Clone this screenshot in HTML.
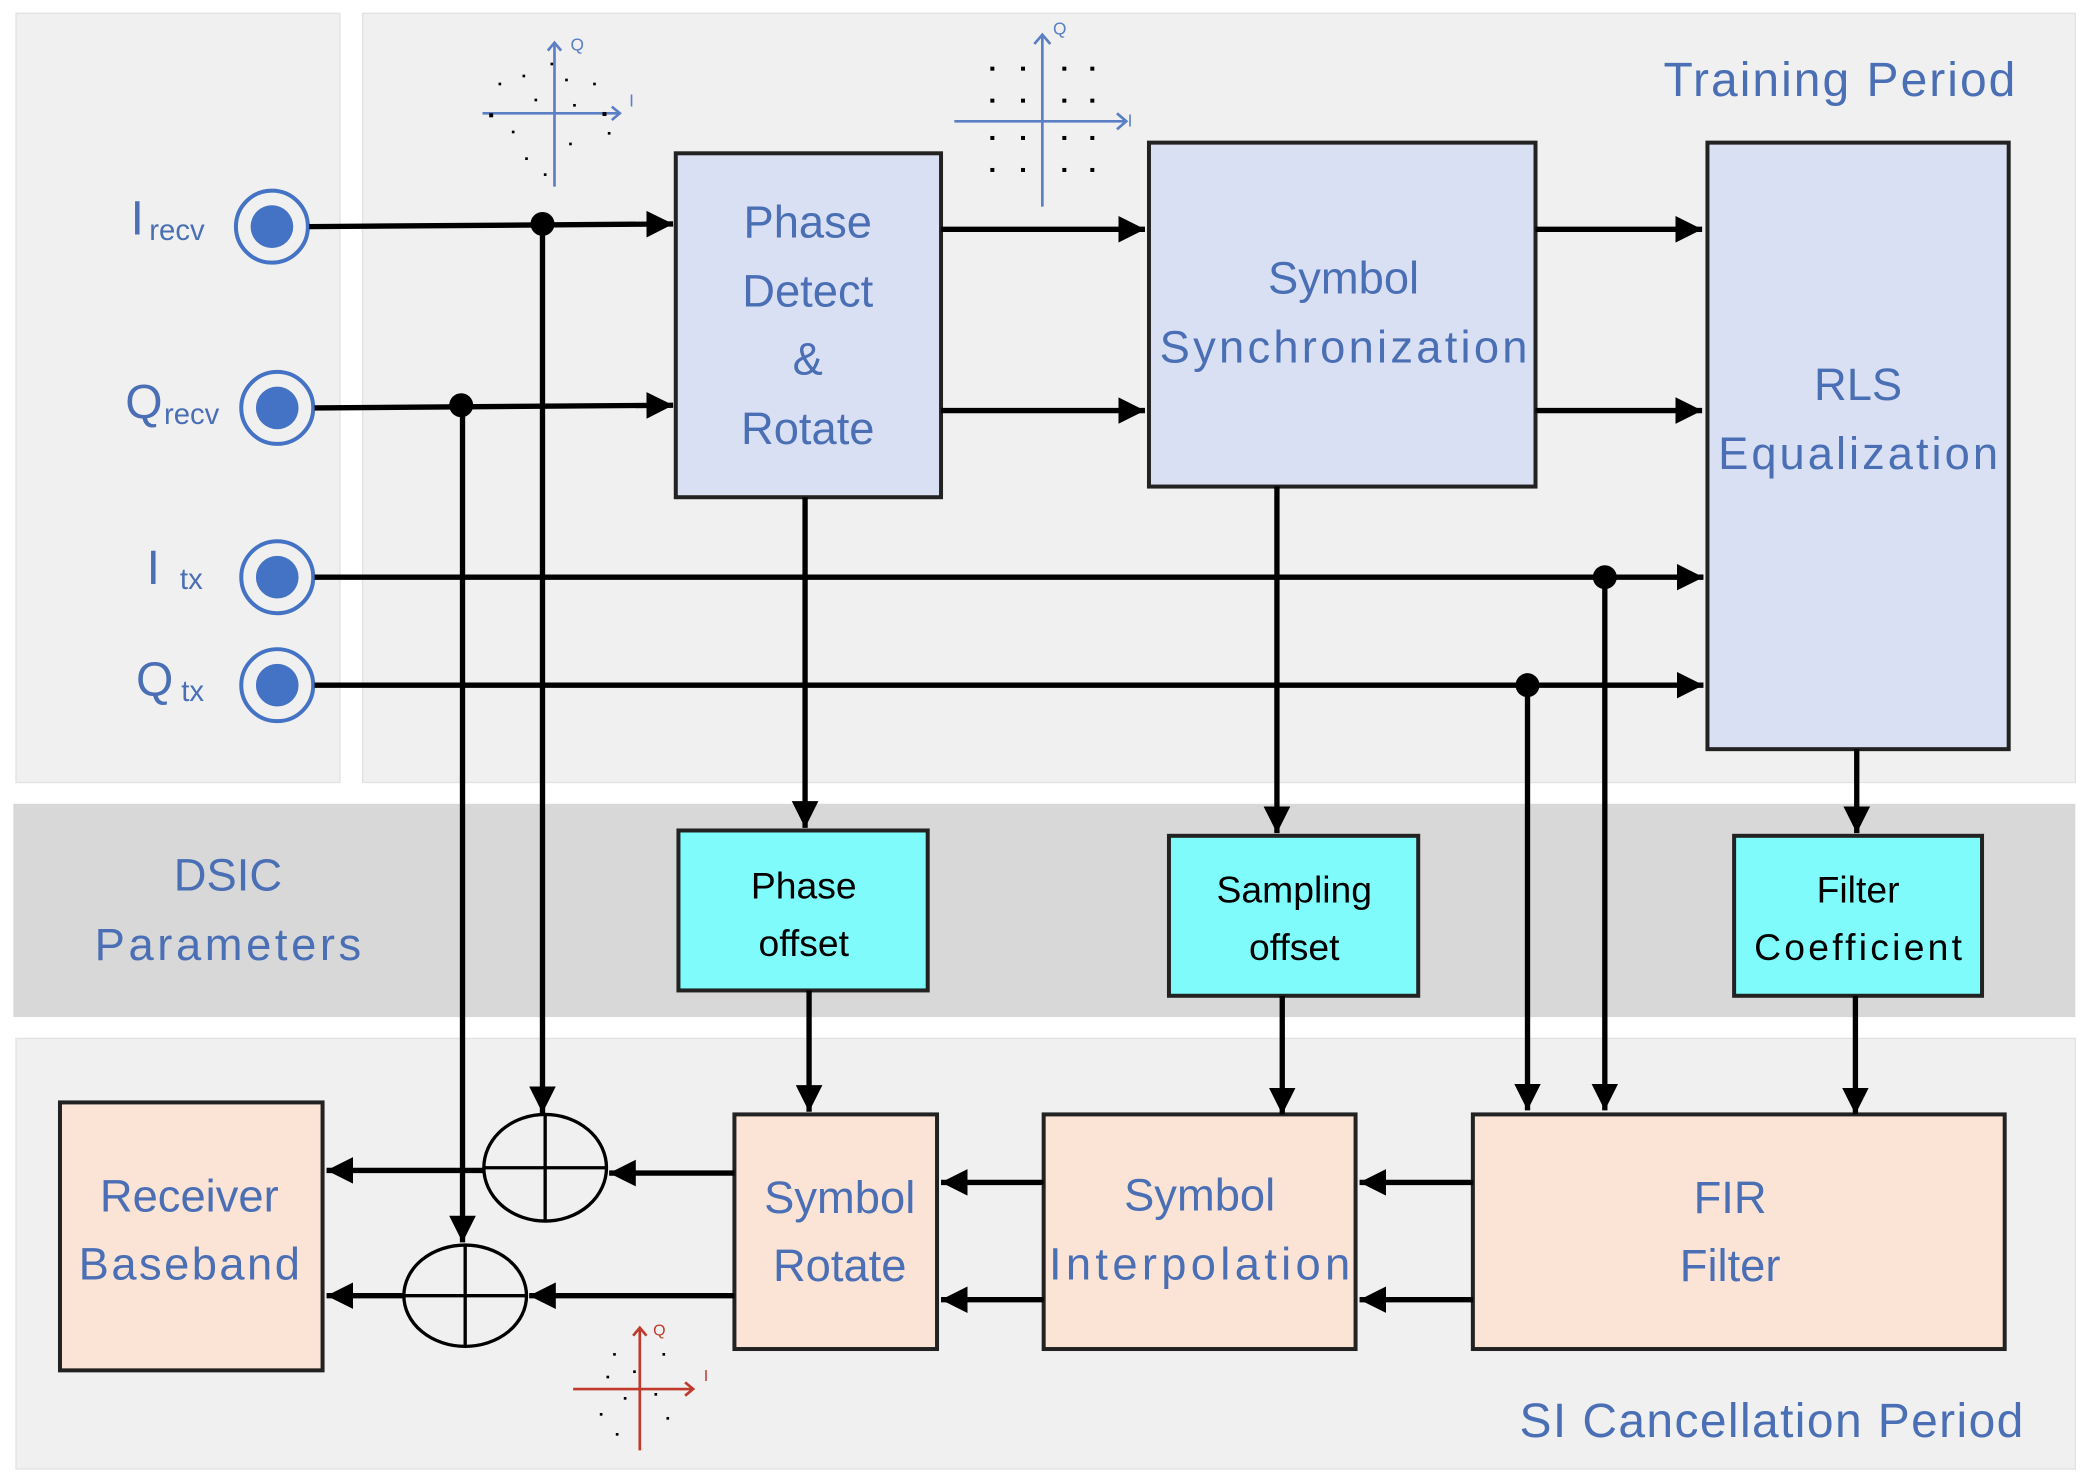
<!DOCTYPE html>
<html><head><meta charset="utf-8"><style>
html,body{margin:0;padding:0;background:#fff;}
svg{display:block;}
text{font-family:"Liberation Sans",sans-serif;}
</style></head><body>
<svg width="2090" height="1481" viewBox="0 0 1568 1111" preserveAspectRatio="none" xmlns="http://www.w3.org/2000/svg">
<defs>
<marker id="a" viewBox="0 0 10 10" refX="10" refY="5" markerWidth="5" markerHeight="5" markerUnits="strokeWidth" orient="auto"><path d="M0,0 L10,5 L0,10 z" fill="#000"/></marker>
</defs>
<rect width="1568" height="1111" fill="#fff"/>
<rect x="12" y="10" width="243" height="577" fill="#f0f0f0" stroke="#e2e2e2"/>
<rect x="272" y="10" width="1285" height="577" fill="#f0f0f0" stroke="#e2e2e2"/>
<rect x="10" y="603" width="1547" height="160" fill="#d8d8d8"/>
<rect x="12" y="779" width="1545" height="323" fill="#f0f0f0" stroke="#e2e2e2"/>

<g fill="#4a6fb5" font-size="34">
<text x="1248" y="72" font-size="36" textLength="264">Training Period</text>
<text x="1140" y="1078" font-size="36" textLength="378">SI Cancellation Period</text>
<text x="171" y="668" text-anchor="middle">DSIC</text>
<text x="171" y="720" text-anchor="middle" textLength="200">Parameters</text>
<text x="98" y="176" font-size="36">I</text><text x="112" y="180" font-size="22">recv</text>
<text x="94" y="314" font-size="36">Q</text><text x="123" y="318" font-size="22">recv</text>
<text x="110" y="438" font-size="36">I</text><text x="135" y="442" font-size="22">tx</text>
<text x="102" y="522" font-size="36">Q</text><text x="136" y="526" font-size="22">tx</text>
</g>
<g fill="none" stroke="#4472c4" stroke-width="3">
<circle cx="204" cy="170" r="27"/><circle cx="208" cy="306" r="27"/><circle cx="208" cy="433" r="27"/><circle cx="208" cy="514" r="27"/>
</g>
<g fill="#4472c4">
<circle cx="204" cy="170" r="16"/><circle cx="208" cy="306" r="16"/><circle cx="208" cy="433" r="16"/><circle cx="208" cy="514" r="16"/>
</g>

<!-- blocks -->
<g stroke="#222" stroke-width="3">
<rect x="507" y="115" width="199" height="258" fill="#dae0f3"/>
<rect x="862" y="107" width="290" height="258" fill="#dae0f3"/>
<rect x="1281" y="107" width="226" height="455" fill="#dae0f3"/>
<rect x="509" y="623" width="187" height="120" fill="#7ffbfc"/>
<rect x="877" y="627" width="187" height="120" fill="#7ffbfc"/>
<rect x="1301" y="627" width="186" height="120" fill="#7ffbfc"/>
<rect x="45" y="827" width="197" height="201" fill="#fbe4d5"/>
<rect x="551" y="836" width="152" height="176" fill="#fbe4d5"/>
<rect x="783" y="836" width="234" height="176" fill="#fbe4d5"/>
<rect x="1105" y="836" width="399" height="176" fill="#fbe4d5"/>
</g>
<g fill="#4a6fb5" font-size="34" text-anchor="middle">
<text x="606" y="178">Phase</text><text x="606" y="230">Detect</text><text x="606" y="281">&amp;</text><text x="606" y="333">Rotate</text>
<text x="1008" y="220">Symbol</text><text x="1008" y="272" textLength="276">Synchronization</text>
<text x="1394" y="300">RLS</text><text x="1394" y="352" textLength="210">Equalization</text>
<text x="142" y="909">Receiver</text><text x="142" y="960" textLength="166">Baseband</text>
<text x="630" y="910">Symbol</text><text x="630" y="961">Rotate</text>
<text x="900" y="908">Symbol</text><text x="900" y="960" textLength="226">Interpolation</text>
<text x="1298" y="910">FIR</text><text x="1298" y="961">Filter</text>
</g>
<g fill="#000" font-size="28" text-anchor="middle">
<text x="603" y="674">Phase</text><text x="603" y="717">offset</text>
<text x="971" y="677">Sampling</text><text x="971" y="720">offset</text>
<text x="1394" y="677">Filter</text><text x="1394" y="720" textLength="156">Coefficient</text>
</g>

<!-- adders -->
<g fill="none" stroke="#000" stroke-width="2.5">
<ellipse cx="409" cy="876" rx="46" ry="40"/><line x1="409" y1="836" x2="409" y2="916"/><line x1="363" y1="876" x2="455" y2="876"/>
<ellipse cx="349" cy="972" rx="46" ry="38"/><line x1="349" y1="934" x2="349" y2="1010"/><line x1="303" y1="972" x2="395" y2="972"/>
</g>

<!-- connectors -->
<g stroke="#000" stroke-width="4" fill="none" marker-end="url(#a)">
<line x1="232" y1="170" x2="505" y2="168"/>
<line x1="236" y1="306" x2="505" y2="304"/>
<line x1="407" y1="168" x2="407" y2="835"/>
<line x1="347" y1="304" x2="347" y2="932"/>
<line x1="706" y1="172" x2="859" y2="172"/>
<line x1="706" y1="308" x2="859" y2="308"/>
<line x1="1152" y1="172" x2="1277" y2="172"/>
<line x1="1152" y1="308" x2="1277" y2="308"/>
<line x1="236" y1="433" x2="1278" y2="433"/>
<line x1="236" y1="514" x2="1278" y2="514"/>
<line x1="1204" y1="433" x2="1204" y2="833"/>
<line x1="1146" y1="514" x2="1146" y2="833"/>
<line x1="604" y1="373" x2="604" y2="621"/>
<line x1="958" y1="365" x2="958" y2="625"/>
<line x1="1393" y1="562" x2="1393" y2="625"/>
<line x1="607" y1="743" x2="607" y2="834"/>
<line x1="962" y1="747" x2="962" y2="836"/>
<line x1="1392" y1="747" x2="1392" y2="836"/>
<line x1="1105" y1="887" x2="1020" y2="887"/>
<line x1="1105" y1="975" x2="1020" y2="975"/>
<line x1="783" y1="887" x2="706" y2="887"/>
<line x1="783" y1="975" x2="706" y2="975"/>
<line x1="551" y1="880" x2="457" y2="880"/>
<line x1="551" y1="972" x2="397" y2="972"/>
<line x1="363" y1="878" x2="245" y2="878"/>
<line x1="303" y1="972" x2="245" y2="972"/>
</g>
<g fill="#000">
<circle cx="407" cy="168" r="9"/><circle cx="346" cy="304" r="9"/><circle cx="1204" cy="433" r="9"/><circle cx="1146" cy="514" r="9"/>
</g>

<!-- constellations -->
<g stroke="#5b7fc4" stroke-width="2" fill="none">
<line x1="362" y1="85" x2="465" y2="85"/><path d="M459,80 L465,85 L459,90"/>
<line x1="416" y1="140" x2="416" y2="32"/><path d="M411,38 L416,32 L421,38"/>
<line x1="716" y1="91" x2="845" y2="91"/><path d="M838,85 L845,91 L838,97"/>
<line x1="782" y1="155" x2="782" y2="26"/><path d="M776,33 L782,26 L788,33"/>
</g>
<g fill="#5b7fc4" font-size="13"><text x="428" y="38">Q</text><text x="472" y="80">I</text><text x="790" y="26">Q</text><text x="846" y="95">I</text></g>
<g fill="#000">
<rect x="374" y="62" width="2" height="2"/><rect x="392" y="56" width="2" height="2"/><rect x="424" y="59" width="2" height="2"/><rect x="413" y="47" width="2" height="2"/>
<rect x="384" y="98" width="2" height="2"/><rect x="401" y="74" width="2" height="2"/><rect x="430" y="78" width="2" height="2"/><rect x="456" y="99" width="2" height="2"/>
<rect x="445" y="62" width="2" height="2"/><rect x="394" y="118" width="2" height="2"/><rect x="427" y="107" width="2" height="2"/><rect x="408" y="130" width="2" height="2"/>
<rect x="367" y="85" width="3" height="3"/><rect x="452" y="84" width="3" height="3"/>
</g>
<g fill="#000">
<rect x="743" y="50" width="3" height="3"/><rect x="766" y="50" width="3" height="3"/><rect x="797" y="50" width="3" height="3"/><rect x="818" y="50" width="3" height="3"/>
<rect x="743" y="74" width="3" height="3"/><rect x="766" y="74" width="3" height="3"/><rect x="797" y="74" width="3" height="3"/><rect x="818" y="74" width="3" height="3"/>
<rect x="743" y="102" width="3" height="3"/><rect x="766" y="102" width="3" height="3"/><rect x="797" y="102" width="3" height="3"/><rect x="818" y="102" width="3" height="3"/>
<rect x="743" y="126" width="3" height="3"/><rect x="766" y="126" width="3" height="3"/><rect x="797" y="126" width="3" height="3"/><rect x="818" y="126" width="3" height="3"/>
</g>
<g stroke="#c0392b" stroke-width="2" fill="none">
<line x1="430" y1="1042" x2="520" y2="1042"/><path d="M514,1037 L520,1042 L514,1047"/>
<line x1="480" y1="1088" x2="480" y2="996"/><path d="M475,1002 L480,996 L485,1002"/>
</g>
<g fill="#c0392b" font-size="12"><text x="490" y="1002">Q</text><text x="528" y="1036">I</text></g>
<g fill="#000">
<rect x="460" y="1015" width="2" height="2"/><rect x="475" y="1028" width="2" height="2"/><rect x="497" y="1015" width="2" height="2"/><rect x="491" y="1045" width="2" height="2"/>
<rect x="450" y="1060" width="2" height="2"/><rect x="468" y="1048" width="2" height="2"/><rect x="500" y="1063" width="2" height="2"/><rect x="455" y="1032" width="2" height="2"/><rect x="462" y="1075" width="2" height="2"/>
</g>
</svg>
</body></html>
